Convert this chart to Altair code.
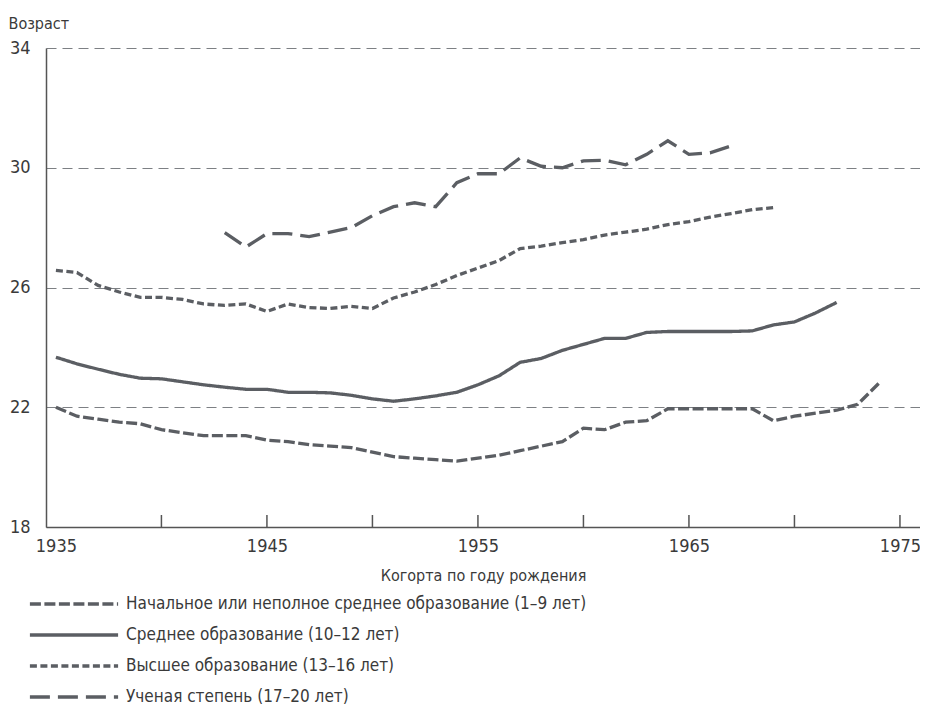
import altair as alt
import pandas as pd

series_names = [
    "Начальное или неполное среднее образование (1–9 лет)",
    "Среднее образование (10–12 лет)",
    "Высшее образование (13–16 лет)",
    "Ученая степень (17–20 лет)",
]

years_primary = list(range(1935, 1975))
primary = [22.0, 21.7, 21.6, 21.5, 21.45, 21.25, 21.15, 21.05, 21.05, 21.05,
           20.9, 20.85, 20.75, 20.7, 20.65, 20.5, 20.35, 20.3, 20.25, 20.2,
           20.3, 20.4, 20.55, 20.7, 20.85, 21.3, 21.25, 21.5, 21.55, 21.95,
           21.95, 21.95, 21.95, 21.95, 21.55, 21.7, 21.8, 21.9, 22.1, 22.8]

years_secondary = list(range(1935, 1973))
secondary = [23.67, 23.45, 23.27, 23.1, 22.97, 22.95, 22.85, 22.75, 22.67, 22.6,
             22.6, 22.5, 22.5, 22.48, 22.4, 22.28, 22.2, 22.28, 22.38, 22.5,
             22.75, 23.05, 23.5, 23.63, 23.9, 24.1, 24.3, 24.3, 24.5, 24.53,
             24.53, 24.53, 24.53, 24.55, 24.75, 24.85, 25.15, 25.5]

years_higher = list(range(1935, 1970))
higher = [26.57, 26.5, 26.07, 25.85, 25.67, 25.67, 25.6, 25.45, 25.4, 25.45,
          25.2, 25.45, 25.33, 25.3, 25.37, 25.3, 25.65, 25.85, 26.1, 26.4,
          26.65, 26.9, 27.3, 27.38, 27.5, 27.6, 27.75, 27.85, 27.95, 28.1,
          28.2, 28.35, 28.47, 28.6, 28.67]

years_degree = list(range(1943, 1968))
degree = [27.83, 27.35, 27.8, 27.8, 27.7, 27.85, 28.0, 28.4, 28.7, 28.83,
          28.7, 29.5, 29.8, 29.8, 30.33, 30.05, 30.0, 30.23, 30.25, 30.1,
          30.45, 30.9, 30.45, 30.5, 30.73]

x_label_values = [1935, 1945, 1955, 1965, 1975]
x_tick_years = [1940, 1945, 1950, 1955, 1960, 1965, 1970, 1975]
y_label_values = [18, 22, 26, 30, 34]

rows = []
for name, yrs, vals in zip(series_names,
                           [years_primary, years_secondary, years_higher, years_degree],
                           [primary, secondary, higher, degree]):
    for yr, v in zip(yrs, vals):
        rows.append({"year": yr, "age": v, "series": name})
df = pd.DataFrame(rows)
ticks_df = pd.DataFrame({"year": x_tick_years, "y0": [18] * len(x_tick_years),
                         "y1": [18.4] * len(x_tick_years)})

FONT = "DejaVu Sans Condensed, Roboto, Liberation Sans"
INK = "#3a3a3a"
LINE = "#5b5e63"

xscale = alt.Scale(domain=[1934.53, 1975.95], nice=False, zero=False)
yscale = alt.Scale(domain=[18, 34], nice=False, zero=False)

lines = alt.Chart(df).mark_line(strokeWidth=3.3, color=LINE).encode(
    x=alt.X("year:Q", scale=xscale,
            axis=alt.Axis(values=x_label_values, format="d", ticks=False, grid=False,
                          domainColor="#555", domainWidth=1.5,
                          labelFont=FONT, labelFontSize=18, labelColor=INK,
                          labelPadding=10, labelBound=False,
                          title="Когорта по году рождения", titleFont=FONT,
                          titleFontSize=16, titleFontWeight="normal", titleColor=INK,
                          titlePadding=12)),
    y=alt.Y("age:Q", scale=yscale,
            axis=alt.Axis(values=y_label_values, ticks=False, grid=True,
                          gridDash=[10, 6], gridColor="#7d8084", gridWidth=1.2,
                          domainColor="#555", domainWidth=1.5,
                          labelFont=FONT, labelFontSize=18, labelColor=INK,
                          labelPadding=16,
                          title="Возраст", titleAngle=0, titleAlign="left",
                          titleBaseline="alphabetic",
                          titleX=-38, titleY=-20, titleFont=FONT, titleFontSize=16,
                          titleFontWeight="normal", titleColor=INK)),
    strokeDash=alt.StrokeDash(
        "series:N",
        scale=alt.Scale(domain=series_names,
                        range=[[11, 3.5], [1, 0], [7, 3.5], [20, 8]]),
        legend=alt.Legend(title=None, orient="none", legendX=17, legendY=545,
                          direction="vertical",
                          symbolType="M-4.9,0H4.9",
                          symbolSize=324, symbolStrokeWidth=3.3,
                          symbolStrokeColor=LINE, labelFont=FONT,
                          labelFontSize=17, labelColor=INK, labelOffset=41,
                          rowPadding=12, labelLimit=700),
    ),
    order="year:Q",
)

ticks = alt.Chart(ticks_df).mark_rule(color="#555", strokeWidth=1.5).encode(
    x=alt.X("year:Q", scale=xscale),
    y=alt.Y("y0:Q", scale=yscale),
    y2="y1:Q",
)

chart = alt.layer(ticks, lines).properties(
    width=874, height=479,
    autosize=alt.AutoSizeParams(type="none"),
    padding={"left": 38, "top": 40, "right": 0, "bottom": 180},
).configure_view(stroke=None)

chart.save("out.html", embed_options={"renderer": "svg", "actions": False})
